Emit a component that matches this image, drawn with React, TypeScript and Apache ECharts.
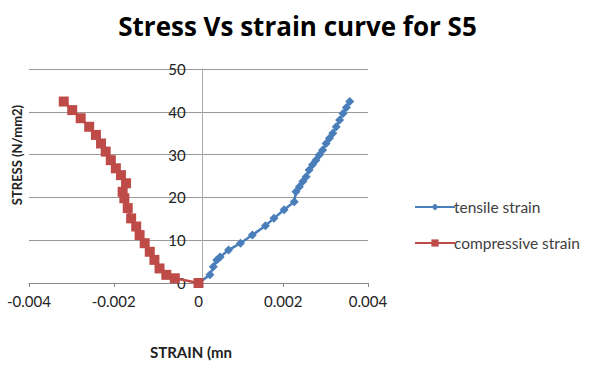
import React, { useEffect, useRef } from "react";
import * as echarts from "echarts";

const titleText = "Stress Vs strain curve for S5";
const xAxisName = "STRAIN (mn";
const yAxisName = "STRESS (N/mm2)";
const seriesNames = ["tensile strain", "compressive strain"];

const tensileStrain = [0, 0.00027, 0.00035, 0.00043, 0.00051, 0.00071, 0.00099, 0.00127, 0.00158, 0.00178, 0.00202, 0.00226, 0.0023, 0.00238, 0.00246, 0.00254, 0.00261, 0.00269, 0.00277, 0.00285, 0.00293, 0.00301, 0.00309, 0.00317, 0.00325, 0.00333, 0.00341, 0.00349, 0.00357];
const tensileStress = [0, 1.9, 3.8, 5.4, 6.1, 7.7, 9.3, 11.2, 13.4, 15.1, 17.1, 19.0, 21.3, 22.5, 23.7, 24.8, 26.4, 27.6, 28.7, 29.9, 31.1, 32.6, 33.8, 35.0, 36.5, 38.1, 39.6, 41.0, 42.4];

const compStrain = [0, -0.00056, -0.00076, -0.00092, -0.00104, -0.00115, -0.00127, -0.00139, -0.00147, -0.00159, -0.00167, -0.00175, -0.00179, -0.00171, -0.00183, -0.00195, -0.00207, -0.00219, -0.0023, -0.00242, -0.00258, -0.00278, -0.00298, -0.00318];
const compStress = [0, 1.1, 1.9, 3.4, 5.4, 7.3, 9.3, 11.2, 13.2, 15.1, 17.5, 19.8, 21.3, 23.3, 25.2, 26.8, 28.7, 30.7, 32.6, 34.6, 36.5, 38.5, 40.4, 42.4];

const xMin = -0.004, xMax = 0.004, xStep = 0.002;
const yMin = 0, yMax = 50, yStep = 10;

const GRID_LEFT = 29;

export default function App() {
  const ref = useRef<HTMLDivElement>(null);
  useEffect(() => {
    if (!ref.current) return;
    const chart = echarts.init(ref.current, undefined, { renderer: "svg" });
    const fmt = (v: number) => (Math.abs(v) < 1e-12 ? "0" : String(Number(v.toFixed(3))));
    chart.setOption({
      animation: false,
      backgroundColor: "#ffffff",
      title: {
        text: titleText,
        left: "center",
        top: 8,
        textStyle: { fontFamily: "Open Sans", fontWeight: "bold", fontSize: 26, color: "#000" },
      },
      legend: {
        orient: "vertical",
        left: 409,
        top: 194,
        itemWidth: 40,
        itemHeight: 9,
        itemGap: 20,
        data: seriesNames,
        textStyle: { fontFamily: "Lato", fontSize: 15.5, color: "#404040", padding: [0, 0, 0, -6] },
      },
      grid: { left: GRID_LEFT, right: 227, top: 69, bottom: 86 },
      xAxis: {
        type: "value",
        min: xMin,
        max: xMax,
        interval: xStep,
        splitLine: { show: false },
        axisLine: { onZero: true, lineStyle: { color: "#888" } },
        axisTick: { show: true, length: 4, lineStyle: { color: "#888" } },
        axisLabel: { formatter: fmt, fontFamily: "Lato", fontSize: 15, color: "#222", margin: 10 },
      },
      yAxis: {
        type: "value",
        min: yMin,
        max: yMax,
        interval: yStep,
        splitLine: { show: true, lineStyle: { color: "#9a9a9a" } },
        axisLine: { show: true, onZero: false, lineStyle: { color: "#aaa" } },
        axisTick: { show: false },
        axisLabel: { fontFamily: "Lato", fontSize: 15, color: "#222", margin: 17 },
      },
      graphic: [
        {
          type: "text",
          x: 17,
          y: 155,
          rotation: Math.PI / 2,
          style: { text: yAxisName, fontFamily: "Lato", fontWeight: "bold", fontSize: 13, fill: "#222", align: "center", verticalAlign: "middle" },
        },
        {
          type: "text",
          x: 191,
          y: 352,
          style: { text: xAxisName, fontFamily: "Lato", fontWeight: "bold", fontSize: 15, fill: "#222", align: "center", verticalAlign: "middle" },
        },
      ],
      series: [
        {
          name: seriesNames[0],
          type: "line",
          data: tensileStrain.map((x, i) => [x, tensileStress[i]]),
          symbol: "diamond",
          symbolSize: 9,
          showAllSymbol: true,
          lineStyle: { width: 2.5, color: "#4a7ebb" },
          itemStyle: { color: "#4a7ebb" },
          z: 3,
        },
        {
          name: seriesNames[1],
          type: "line",
          data: compStrain.map((x, i) => [x, compStress[i]]),
          symbol: "rect",
          symbolSize: 10,
          showAllSymbol: true,
          lineStyle: { width: 2.5, color: "#be4b48" },
          itemStyle: { color: "#be4b48" },
          z: 4,
        },
      ],
    });
    const zeroPx = chart.convertToPixel({ xAxisIndex: 0 }, 0) as number;
    chart.setOption({ yAxis: { offset: -(zeroPx - GRID_LEFT) } });
    return () => chart.dispose();
  }, []);
  return <div ref={ref} style={{ width: 595, height: 369, position: "absolute", left: 0, top: 0 }} />;
}
